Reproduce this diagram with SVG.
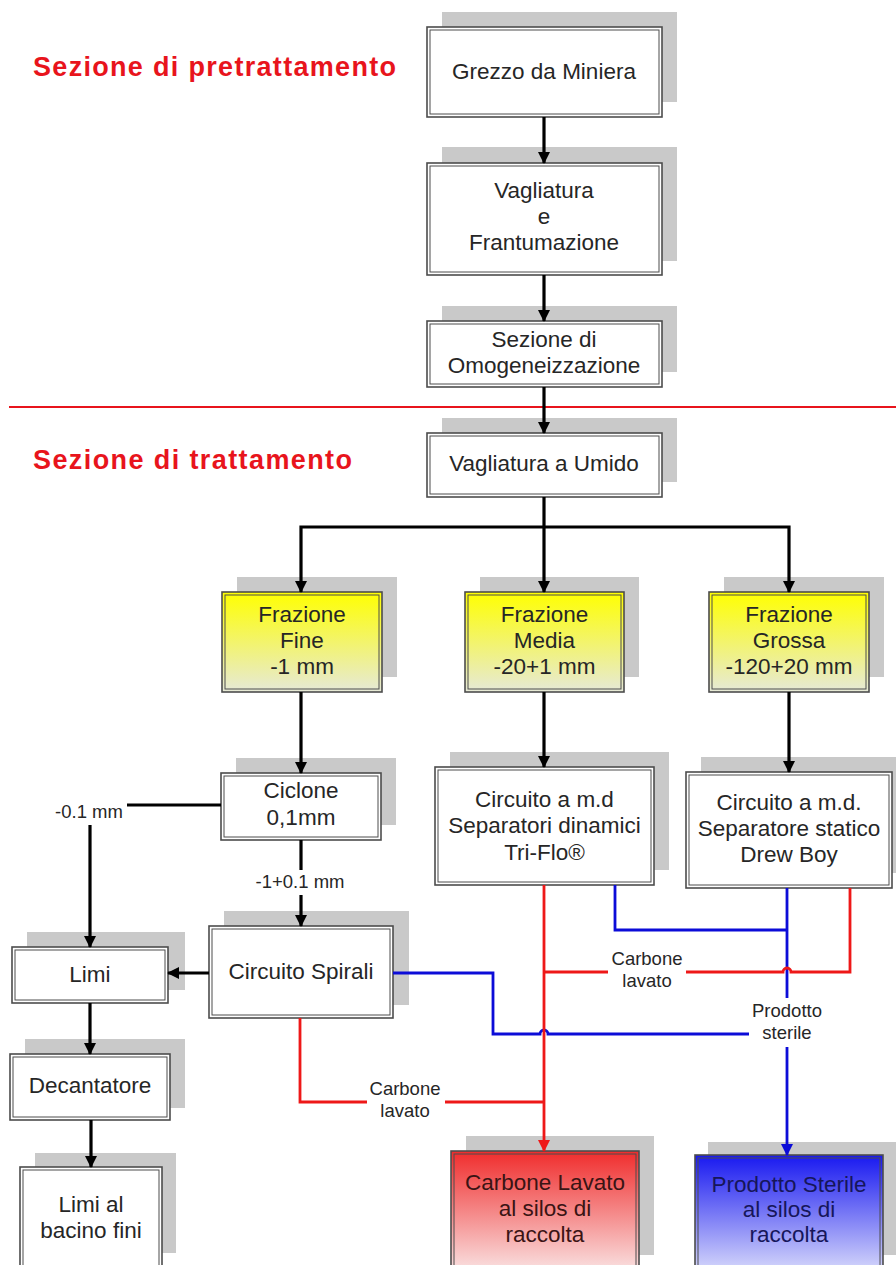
<svg xmlns="http://www.w3.org/2000/svg" width="896" height="1265" viewBox="0 0 896 1265">
<defs>
<style>
.sh{fill:#c9c9c9}
.bo{fill:#fff;stroke:#4d4d4d;stroke-width:1.6}
.bi{fill:none;stroke:#4d4d4d;stroke-width:1}
.t{font-family:"Liberation Sans",Arial,sans-serif;font-size:22.5px;fill:#262626;text-anchor:middle}
.s{font-family:"Liberation Sans",Arial,sans-serif;font-size:18.5px;fill:#262626;text-anchor:middle}
.h{font-family:"Liberation Sans",Arial,sans-serif;font-size:27px;font-weight:bold;fill:#e8141c}
.k{fill:none;stroke:#000;stroke-width:3.2}
.r{fill:none;stroke:#ee1818;stroke-width:2.8}
.b{fill:none;stroke:#0c0cd8;stroke-width:2.8}
</style>
<linearGradient id="gy" x1="0" y1="0" x2="0" y2="1"><stop offset="0" stop-color="#ffff00"/><stop offset="1" stop-color="#e6e9d8"/></linearGradient>
<linearGradient id="gr" x1="0" y1="0" x2="0" y2="1"><stop offset="0" stop-color="#f02c2c"/><stop offset="1" stop-color="#faf0f0"/></linearGradient>
<linearGradient id="gb" x1="0" y1="0" x2="0" y2="1"><stop offset="0" stop-color="#1818f0"/><stop offset="1" stop-color="#eceefc"/></linearGradient>
<marker id="ak" viewBox="0 0 12 12" refX="11" refY="6" markerWidth="12" markerHeight="12" markerUnits="userSpaceOnUse" orient="auto"><path d="M0,0 L12,6 L0,12 z" fill="#000"/></marker>
<marker id="ar" viewBox="0 0 12 12" refX="11" refY="6" markerWidth="12" markerHeight="12" markerUnits="userSpaceOnUse" orient="auto"><path d="M0,0 L12,6 L0,12 z" fill="#ee1818"/></marker>
<marker id="ab" viewBox="0 0 12 12" refX="11" refY="6" markerWidth="12" markerHeight="12" markerUnits="userSpaceOnUse" orient="auto"><path d="M0,0 L12,6 L0,12 z" fill="#0c0cd8"/></marker>
</defs>
<rect width="896" height="1265" fill="#fff"/>

<text class="h" x="33" y="76" textLength="363" lengthAdjust="spacing">Sezione di pretrattamento</text>
<text class="h" x="33" y="469" textLength="319" lengthAdjust="spacing">Sezione di trattamento</text>
<line x1="9" y1="407" x2="896" y2="407" stroke="#e8141c" stroke-width="2"/>

<g id="n1"><rect class="sh" x="442" y="12" width="235" height="90"/><rect class="bo" x="427" y="27" width="235" height="90"/><rect class="bi" x="430" y="30" width="229" height="84"/><text class="t" x="544" y="79">Grezzo da Miniera</text></g>
<g id="n2"><rect class="sh" x="442" y="147" width="235" height="114"/><rect class="bo" x="427" y="163" width="235" height="112"/><rect class="bi" x="430" y="166" width="229" height="106"/><text class="t" x="544" y="198">Vagliatura</text><text class="t" x="544" y="224">e</text><text class="t" x="544" y="250">Frantumazione</text></g>
<g id="n3"><rect class="sh" x="442" y="306" width="235" height="66"/><rect class="bo" x="427" y="321" width="235" height="66"/><rect class="bi" x="430" y="324" width="229" height="60"/><text class="t" x="544" y="347">Sezione di</text><text class="t" x="544" y="373">Omogeneizzazione</text></g>
<g id="n4"><rect class="sh" x="442" y="418" width="235" height="64"/><rect class="bo" x="427" y="433" width="235" height="64"/><rect class="bi" x="430" y="436" width="229" height="58"/><text class="t" x="544" y="471">Vagliatura a Umido</text></g>

<g id="n5"><rect class="sh" x="237" y="577" width="160" height="100"/><rect class="bo" x="222" y="592" width="160" height="100" style="fill:url(#gy)"/><rect class="bi" x="225" y="595" width="154" height="94"/><text class="t" x="302" y="622">Frazione</text><text class="t" x="302" y="648">Fine</text><text class="t" x="302" y="674">-1 mm</text></g>
<g id="n6"><rect class="sh" x="480" y="577" width="159" height="100"/><rect class="bo" x="465" y="592" width="159" height="100" style="fill:url(#gy)"/><rect class="bi" x="468" y="595" width="153" height="94"/><text class="t" x="544.5" y="622">Frazione</text><text class="t" x="544.5" y="648">Media</text><text class="t" x="544.5" y="674">-20+1 mm</text></g>
<g id="n7"><rect class="sh" x="724" y="577" width="160" height="100"/><rect class="bo" x="709" y="592" width="160" height="100" style="fill:url(#gy)"/><rect class="bi" x="712" y="595" width="154" height="94"/><text class="t" x="789" y="622">Frazione</text><text class="t" x="789" y="648">Grossa</text><text class="t" x="789" y="674">-120+20 mm</text></g>

<g id="n8"><rect class="sh" x="236" y="758" width="160" height="67"/><rect class="bo" x="221" y="773" width="160" height="67"/><rect class="bi" x="224" y="776" width="154" height="61"/><text class="t" x="301" y="798">Ciclone</text><text class="t" x="301" y="825">0,1mm</text></g>
<g id="n9"><rect class="sh" x="450" y="752" width="219" height="118"/><rect class="bo" x="435" y="767" width="219" height="118"/><rect class="bi" x="438" y="770" width="213" height="112"/><text class="t" x="544.5" y="807">Circuito a m.d</text><text class="t" x="544.5" y="833">Separatori dinamici</text><text class="t" x="544.5" y="860">Tri-Flo®</text></g>
<g id="n10"><rect class="sh" x="701" y="757" width="206" height="116"/><rect class="bo" x="686" y="772" width="206" height="116"/><rect class="bi" x="689" y="775" width="200" height="110"/><text class="t" x="789" y="810">Circuito a m.d.</text><text class="t" x="789" y="836">Separatore statico</text><text class="t" x="789" y="862">Drew Boy</text></g>

<g id="n11"><rect class="sh" x="224" y="911" width="185" height="94"/><rect class="bo" x="209" y="926" width="184" height="92"/><rect class="bi" x="212" y="929" width="178" height="86"/><text class="t" x="301" y="979">Circuito Spirali</text></g>
<g id="n12"><rect class="sh" x="27" y="932" width="158" height="58"/><rect class="bo" x="12" y="947" width="156" height="56"/><rect class="bi" x="15" y="950" width="150" height="50"/><text class="t" x="90" y="982">Limi</text></g>
<g id="n13"><rect class="sh" x="25" y="1039" width="160" height="69"/><rect class="bo" x="10" y="1054" width="160" height="66"/><rect class="bi" x="13" y="1057" width="154" height="60"/><text class="t" x="90" y="1093">Decantatore</text></g>
<g id="n14"><rect class="sh" x="35" y="1153" width="141" height="100"/><rect class="bo" x="20" y="1167" width="142" height="110"/><rect class="bi" x="23" y="1170" width="136" height="104"/><text class="t" x="91" y="1212">Limi al</text><text class="t" x="91" y="1238">bacino fini</text></g>

<g id="n15"><rect class="sh" x="466" y="1136" width="188" height="119"/><rect class="bo" x="451" y="1151" width="188" height="130" style="fill:url(#gr)"/><rect class="bi" x="454" y="1154" width="182" height="124"/><text class="t" x="545" y="1190" style="fill:#3a1414">Carbone Lavato</text><text class="t" x="545" y="1216" style="fill:#3a1414">al silos di</text><text class="t" x="545" y="1242" style="fill:#3a1414">raccolta</text></g>
<g id="n16"><rect class="sh" x="708" y="1142" width="188" height="113"/><rect class="bo" x="695" y="1155" width="188" height="130" style="fill:url(#gb)"/><rect class="bi" x="698" y="1158" width="182" height="124"/><text class="t" x="789" y="1192" style="fill:#16165a">Prodotto Sterile</text><text class="t" x="789" y="1217" style="fill:#16165a">al silos di</text><text class="t" x="789" y="1242" style="fill:#16165a">raccolta</text></g>

<g id="connectors">
<path class="k" d="M544,117 V163" marker-end="url(#ak)"/>
<path class="k" d="M544,275 V321" marker-end="url(#ak)"/>
<path class="k" d="M544,387 V433" marker-end="url(#ak)"/>
<path class="k" d="M544,497 V592" marker-end="url(#ak)"/>
<path class="k" d="M544,527 H301 V592" marker-end="url(#ak)"/>
<path class="k" d="M544,527 H789 V592" marker-end="url(#ak)"/>
<path class="k" d="M301,692 V773" marker-end="url(#ak)"/>
<path class="k" d="M544,692 V767" marker-end="url(#ak)"/>
<path class="k" d="M789,692 V772" marker-end="url(#ak)"/>
<path class="k" d="M221,805 H127"/>
<path class="k" d="M90,825 V947" marker-end="url(#ak)"/>
<text class="s" x="89" y="818">-0.1 mm</text>
<path class="k" d="M301,840 V870"/>
<path class="k" d="M301,895 V926" marker-end="url(#ak)"/>
<text class="s" x="300" y="888">-1+0.1 mm</text>
<path class="k" d="M209,973 H168" marker-end="url(#ak)"/>
<path class="k" d="M90,1003 V1054" marker-end="url(#ak)"/>
<path class="k" d="M91,1120 V1167" marker-end="url(#ak)"/>

<path class="b" d="M615,885 V930 H787"/>
<path class="b" d="M787,888 V998"/>
<path class="b" d="M787,1047 V1155" marker-end="url(#ab)"/>
<path class="b" d="M393,973 H493 V1034 H540 a4,4 0 0 1 8,0 H749"/>

<path class="r" d="M544,885 V1151" marker-end="url(#ar)"/>
<path class="r" d="M850,888 V972 H791 a4,4 0 0 0 -8,0 H686"/>
<path class="r" d="M608,972 H544"/>
<path class="r" d="M300,1018 V1102 H367"/>
<path class="r" d="M445,1102 H544"/>

<text class="s" x="647" y="965">Carbone</text><text class="s" x="647" y="987">lavato</text>
<text class="s" x="787" y="1017">Prodotto</text><text class="s" x="787" y="1039">sterile</text>
<text class="s" x="405" y="1095">Carbone</text><text class="s" x="405" y="1117">lavato</text>
</g>
</svg>
